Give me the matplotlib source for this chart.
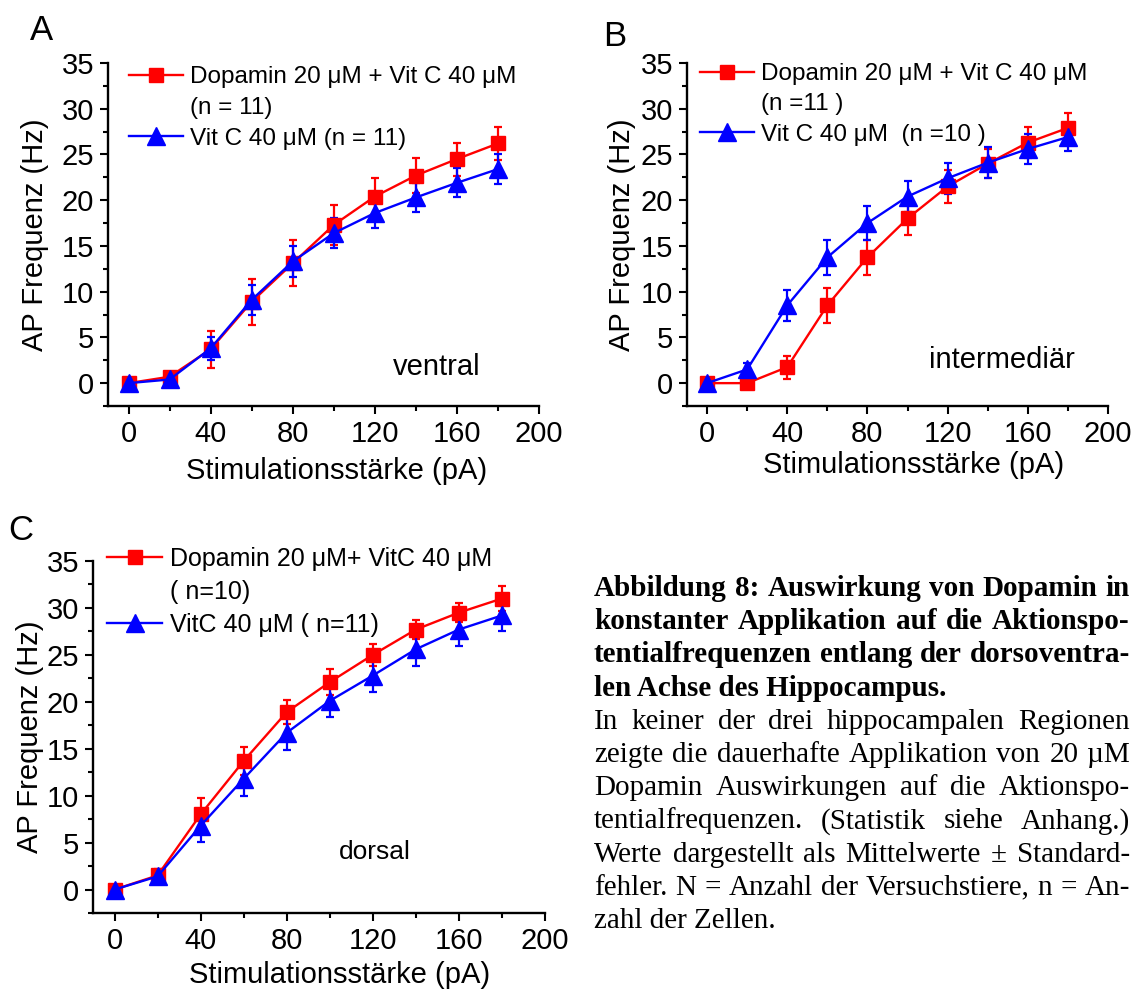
import numpy as np
import matplotlib.pyplot as plt
from matplotlib.lines import Line2D
from matplotlib.ticker import MultipleLocator
from matplotlib.transforms import IdentityTransform

plt.rcParams['font.family'] = ['Liberation Sans', 'DejaVu Sans']

# stimulation steps (pA)
stim = [0, 20, 40, 60, 80, 100, 120, 140, 160, 180]

# A - ventral
a_dop = [0, 0.7, 3.7, 8.9, 13.1, 17.3, 20.4, 22.7, 24.5, 26.2]
a_dop_err = [0.2, 0.3, 2.0, 2.5, 2.5, 2.2, 2.0, 1.9, 1.8, 1.8]
a_vit = [0, 0.4, 3.8, 9.1, 13.3, 16.4, 18.6, 20.3, 21.9, 23.4]
a_vit_err = [0.2, 0.3, 1.25, 1.6, 1.65, 1.6, 1.6, 1.6, 1.6, 1.6]

# B - intermediaer
b_dop = [0, 0, 1.75, 8.5, 13.75, 18.0, 21.5, 24.0, 26.3, 27.9]
b_dop_err = [0.2, 0.2, 1.25, 1.9, 1.9, 1.85, 1.8, 1.6, 1.65, 1.6]
b_vit = [0, 1.5, 8.5, 13.75, 17.5, 20.4, 22.4, 24.1, 25.6, 26.9]
b_vit_err = [0.2, 0.75, 1.7, 1.9, 1.85, 1.7, 1.7, 1.7, 1.65, 1.55]

# C - dorsal
c_dop = [0, 1.5, 8.0, 13.7, 18.9, 22.1, 25.0, 27.7, 29.5, 31.0]
c_dop_err = [0.2, 0.4, 1.8, 1.5, 1.3, 1.4, 1.2, 1.0, 1.0, 1.3]
c_vit = [0, 1.4, 6.8, 11.8, 16.7, 20.1, 22.8, 25.6, 27.7, 29.2]
c_vit_err = [0.2, 0.8, 1.75, 1.8, 1.8, 1.75, 1.8, 1.8, 1.8, 1.7]

W, H = 1145, 992
fig = plt.figure(figsize=(W / 100, H / 100), dpi=100)


def px_axes(left, right, top, bottom):
    return fig.add_axes([left / W, 1 - bottom / H, (right - left) / W, (bottom - top) / H])


def panel(ax, dop, dop_err, vit, vit_err, leg1, leg2, leg3, leg_anchor,
          region, region_xy, region_size, ylab_x, xlab_xy, leg_size, leg_space):
    ax.errorbar(stim, dop, yerr=dop_err, color='#ff0000', marker='s', ms=10,
                lw=1.7, elinewidth=1.6, capsize=3, capthick=1.6)
    ax.errorbar(stim, vit, yerr=vit_err, color='#0000ff', marker='^', ms=12.5,
                lw=1.7, elinewidth=1.6, capsize=3, capthick=1.6)
    ax.set_xlim(-10, 200)
    ax.set_ylim(-2.5, 35)
    ax.xaxis.set_major_locator(MultipleLocator(40))
    ax.xaxis.set_minor_locator(MultipleLocator(20))
    ax.yaxis.set_major_locator(MultipleLocator(5))
    ax.yaxis.set_minor_locator(MultipleLocator(2.5))
    ax.tick_params(which='major', direction='out', length=6, width=1.5, labelsize=21, pad=4)
    ax.tick_params(which='minor', direction='out', length=3.5, width=1.5)
    for s in ['top', 'right']:
        ax.spines[s].set_visible(False)
    for s in ['left', 'bottom']:
        ax.spines[s].set_linewidth(1.7)
    ax.set_ylabel('AP Frequenz (Hz)', fontsize=21, va='center')
    ax.set_xlabel('Stimulationsstärke (pA)', fontsize=21, va='center')
    ax.yaxis.set_label_coords(ylab_x, 0.5)
    ax.xaxis.set_label_coords(*xlab_xy)

    h1 = Line2D([], [], color='#ff0000', marker='s', ms=10, lw=1.7)
    h2 = Line2D([], [], color='none')
    h3 = Line2D([], [], color='#0000ff', marker='^', ms=12.5, lw=1.7)
    ax.legend([h1, h2, h3], [leg1, leg2, leg3], loc='upper left',
              bbox_to_anchor=leg_anchor, frameon=False, fontsize=leg_size,
              handlelength=2.2, handletextpad=0.3, borderpad=0,
              borderaxespad=0, labelspacing=leg_space)
    ax.text(region_xy[0], region_xy[1], region, fontsize=region_size,
            ha='center', va='center')


axA = px_axes(108, 539, 63, 406)
panel(axA, a_dop, a_dop_err, a_vit, a_vit_err,
      'Dopamin 20 μM + Vit C 40 μM', '(n = 11)', 'Vit C 40 μM (n = 11)',
      (0.049, 0.99), 'ventral', (150, 1.8), 21, -0.17, (0.53, -0.19), 17.5, 0.36)

axB = px_axes(687, 1108, 63, 406)
panel(axB, b_dop, b_dop_err, b_vit, b_vit_err,
      'Dopamin 20 μM + Vit C 40 μM', '(n =11 )', 'Vit C 40 μM  (n =10 )',
      (0.031, 1.0), 'intermediär', (147, 2.5), 21, -0.155, (0.537, -0.172), 17.5, 0.34)

axC = px_axes(93, 545, 561, 913)
panel(axC, c_dop, c_dop_err, c_vit, c_vit_err,
      'Dopamin 20 μM+ VitC 40 μM', '( n=10)', 'VitC 40 μM ( n=11)',
      (0.031, 1.04), 'dorsal', (121, 4.0), 19, -0.14, (0.546, -0.176), 18, 0.36)

fig.text(41 / W, 1 - 30 / H, 'A', fontsize=25, ha='center', va='center')
fig.text(615 / W, 1 - 36 / H, 'B', fontsize=25, ha='center', va='center')
fig.text(21 / W, 1 - 531 / H, 'C', fontsize=25, ha='center', va='center')

# caption, justified block
bold_lines = [
    'Abbildung 8: Auswirkung von Dopamin in',
    'konstanter Applikation auf die Aktionspo-',
    'tentialfrequenzen entlang der dorsoventra-',
    'len Achse des Hippocampus.',
]
body_lines = [
    'In keiner der drei hippocampalen Regionen',
    'zeigte die dauerhafte Applikation von 20 µM',
    'Dopamin Auswirkungen auf die Aktionspo-',
    'tentialfrequenzen. (Statistik siehe Anhang.)',
    'Werte dargestellt als Mittelwerte ± Standard-',
    'fehler. N = Anzahl der Versuchstiere, n = An-',
    'zahl der Zellen.',
]

cap_x0, cap_x1 = 594, 1130
cap_y0, cap_pitch = 596, 33.2
cap_size = 21
renderer = fig.canvas.get_renderer()


def caption_line(line, row, weight, justify):
    y = H - (cap_y0 + row * cap_pitch)
    kw = dict(fontsize=cap_size, fontweight=weight, family='Liberation Serif',
              va='baseline', ha='left', transform=IdentityTransform())
    if not justify:
        fig.text(cap_x0, y, line, **kw)
        return
    words = line.split(' ')
    texts = [fig.text(0, y, w, **kw) for w in words]
    widths = [t.get_window_extent(renderer).width for t in texts]
    gap = (cap_x1 - cap_x0 - sum(widths)) / (len(words) - 1)
    x = cap_x0
    for t, w in zip(texts, widths):
        t.set_x(x)
        x += w + gap


for i, line in enumerate(bold_lines):
    caption_line(line, i, 'bold', i < len(bold_lines) - 1)
for j, line in enumerate(body_lines):
    caption_line(line, len(bold_lines) + j, 'normal', j < len(body_lines) - 1)

fig.savefig('out.png', dpi=100)
